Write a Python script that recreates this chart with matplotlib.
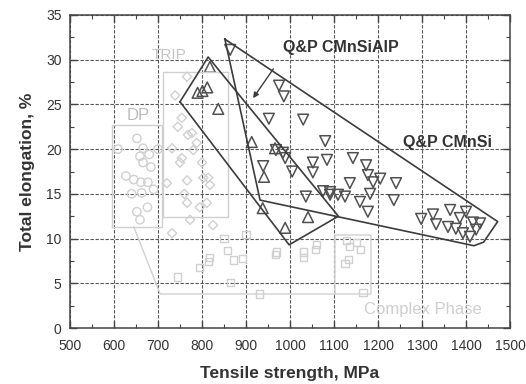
import matplotlib
matplotlib.use("Agg")
import matplotlib.pyplot as plt
from matplotlib.ticker import MultipleLocator

plt.rcParams['font.family'] = ['Liberation Sans', 'DejaVu Sans']

# ---- data ----
dp_x = [609, 652, 666, 659, 680, 666, 684, 627, 645, 661, 677, 663, 690, 652, 659, 676, 700, 640]
dp_y = [20.0, 21.2, 20.1, 19.2, 19.4, 18.5, 18.0, 17.0, 16.6, 16.3, 16.3, 15.1, 15.5, 13.0, 12.1, 13.5, 20.0, 15.0]

trip_x = [766, 739, 754, 768, 777, 788, 732, 780, 754, 750, 814, 720, 766, 803, 818, 766, 795, 811, 773, 825, 732, 745, 800, 760]
trip_y = [28.1, 26.0, 23.5, 21.6, 21.8, 20.7, 20.1, 19.9, 19.0, 18.5, 16.8, 16.2, 16.5, 16.8, 16.0, 14.0, 13.5, 14.0, 12.1, 11.5, 10.6, 22.5, 18.5, 15.0]

cp_x = [795, 814, 818, 857, 871, 893, 745, 864, 930, 968, 1030, 1057, 970, 1030, 1061, 1129, 1152, 1136, 1132, 1161, 1125, 1166, 900, 850]
cp_y = [6.8, 7.4, 7.9, 8.7, 7.6, 7.8, 5.7, 5.1, 3.8, 8.2, 7.9, 8.8, 8.5, 8.5, 9.3, 9.8, 9.6, 9.1, 7.7, 8.8, 7.2, 4.0, 10.5, 10.0]

alp_x = [818, 790, 801, 812, 837, 913, 966, 941, 938, 1041, 989]
alp_y = [29.2, 26.3, 26.5, 26.9, 24.5, 20.8, 20.1, 16.9, 13.4, 12.4, 11.2]

si_x = [864, 975, 986, 952, 1030, 1080, 984, 968, 989, 939, 1005, 1052, 1084, 1052, 1143, 1173, 1177,
        1136, 1189, 1205, 1241, 1091, 1075, 1036, 1091, 1109, 1125, 1159, 1182, 1177, 1236, 1298, 1325,
        1332, 1364, 1359, 1386, 1393, 1400, 1416, 1423, 1432, 1409, 1377]
si_y = [31.1, 27.1, 25.9, 23.4, 23.3, 20.9, 19.6, 19.9, 19.0, 18.1, 17.5, 18.5, 18.8, 17.4, 19.0, 18.2, 17.1,
        16.2, 16.3, 16.7, 16.2, 15.2, 15.3, 14.7, 14.9, 14.9, 14.7, 14.1, 15.0, 13.0, 14.3, 12.2, 12.7,
        11.6, 13.2, 11.3, 12.3, 10.6, 13.0, 11.8, 11.0, 11.7, 10.2, 11.1]

# region outlines (data coordinates)
alp_poly_x = [750, 814, 1110, 998, 750]
alp_poly_y = [25.3, 30.3, 12.5, 9.3, 25.3]
si_poly_x = [852, 1472, 1440, 1418, 932, 852]
si_poly_y = [32.3, 11.9, 9.6, 9.2, 14.3, 32.3]
dp_box_x = [595, 708, 708, 595, 595]
dp_box_y = [11.3, 11.3, 22.7, 22.7, 11.3]
trip_box_x = [711, 860, 860, 711, 711]
trip_box_y = [12.4, 12.4, 28.6, 28.6, 12.4]
cp_line_x = [645, 705, 1184, 1184, 1102, 1102]
cp_line_y = [11.3, 3.8, 3.8, 10.4, 10.4, 3.8]

x_ticks = [500, 600, 700, 800, 900, 1000, 1100, 1200, 1300, 1400, 1500]
y_ticks = [0, 5, 10, 15, 20, 25, 30, 35]

faded = '#d0d0d0'
dark = '#3c3c3c'

fig = plt.figure(figsize=(5.26, 3.84), dpi=100)
ax = fig.add_axes([70/526, 1 - 328/384, 440/526, 313/384])

ax.set_xlim(500, 1500)
ax.set_ylim(0, 35)
ax.set_xticks(x_ticks)
ax.set_yticks(y_ticks)
ax.xaxis.set_minor_locator(MultipleLocator(50))
ax.yaxis.set_minor_locator(MultipleLocator(2.5))
ax.tick_params(which='both', direction='in', top=True, right=True, colors='#444', labelcolor='#333')
ax.tick_params(which='major', length=5, width=1, labelsize=10)
ax.tick_params(which='minor', length=3, width=0.8)
ax.tick_params(axis='x', which='major', pad=8)
ax.tick_params(axis='y', which='major', pad=6)
for s in ax.spines.values():
    s.set_color('#444')
    s.set_linewidth(1.1)

ax.grid(True, which='major', color='#555', linestyle=(0, (3, 1.5)), linewidth=0.8)
ax.set_axisbelow(True)

# faded reference regions
ax.plot(dp_box_x, dp_box_y, color=faded, lw=1)
ax.plot(trip_box_x, trip_box_y, color=faded, lw=1)
ax.plot(cp_line_x, cp_line_y, color=faded, lw=1)
ax.scatter(dp_x, dp_y, marker='o', s=36, facecolors='none', edgecolors=faded, linewidths=1)
ax.scatter(trip_x, trip_y, marker='D', s=22, facecolors='none', edgecolors=faded, linewidths=1)
ax.scatter(cp_x, cp_y, marker='s', s=26, facecolors='none', edgecolors=faded, linewidths=1)

ax.text(655, 23.8, 'DP', color='#bcbcbc', fontsize=12, ha='center', va='center')
ax.text(726, 30.5, 'TRIP', color='#c4c4c4', fontsize=11, ha='center', va='center')
ax.text(1303, 2.1, 'Complex Phase', color='#cfcfcf', fontsize=12, ha='center', va='center')

# Q&P regions
ax.plot(alp_poly_x, alp_poly_y, color=dark, lw=1.2)
ax.plot(si_poly_x, si_poly_y, color=dark, lw=1.2)
ax.scatter(alp_x, alp_y, marker='^', s=60, facecolors='none', edgecolors='#505050', linewidths=1.1)
ax.scatter(si_x, si_y, marker='v', s=60, facecolors='none', edgecolors='#505050', linewidths=1.1)

ax.annotate('Q&P CMnSiAlP', xy=(916, 25.7), xytext=(1116, 31.4),
            fontsize=11.5, fontweight='bold', color='#333', ha='center', va='center',
            arrowprops=dict(arrowstyle='-|>', color=dark, lw=1.0, shrinkA=10, shrinkB=0,
                            mutation_scale=8, relpos=(0.0, 0.0)))
ax.text(1359, 20.7, 'Q&P CMnSi', fontsize=11.5, fontweight='bold', color='#333', ha='center', va='center')

ax.set_xlabel('Tensile strength, MPa', fontsize=12.5, fontweight='bold', color='#333', labelpad=9)
ax.set_ylabel('Total elongation, %', fontsize=12.5, fontweight='bold', color='#333', labelpad=8)

fig.savefig('out.png', dpi=100)
